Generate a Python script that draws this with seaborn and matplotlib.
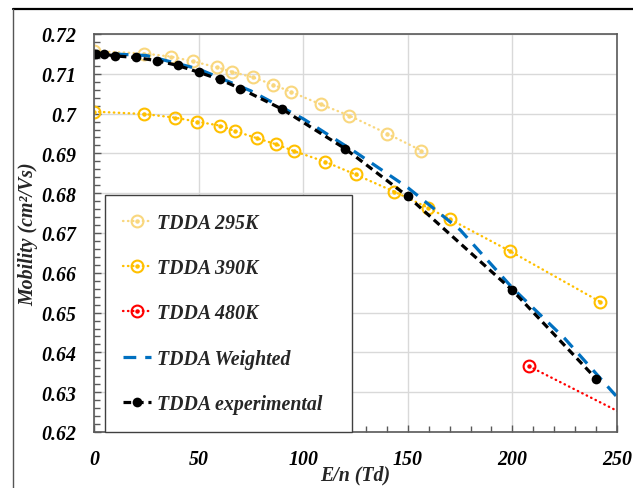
import matplotlib
matplotlib.use("Agg")
import matplotlib.pyplot as plt
import seaborn as sns
from matplotlib.path import Path
from matplotlib.ticker import MultipleLocator, FuncFormatter
from matplotlib.lines import Line2D

# ---- data: reduced field E/n (Td) vs mobility (cm^2/Vs) ----
x_295 = [0, 24, 37, 47.5, 59, 66, 76, 85.5, 94, 108.5, 122, 140, 156.5]
y_295 = [0.7157, 0.7151, 0.7143, 0.7131, 0.7116, 0.7105, 0.7091, 0.7073,
         0.7055, 0.7023, 0.6995, 0.6950, 0.6907]

x_390 = [0, 24, 38.5, 49, 60, 67.5, 78, 87, 95.5, 110.5, 125, 143.5, 159.5,
         170, 199, 242]
y_390 = [0.7005, 0.6999, 0.6990, 0.6980, 0.6970, 0.6956, 0.6938, 0.6923,
         0.6906, 0.6879, 0.6847, 0.6804, 0.6764, 0.6735, 0.6654, 0.6527]

x_480 = [208, 270]
y_480 = [0.6365, 0.6200]

x_wtd = [0, 25, 50, 75, 100, 125, 150, 175, 200, 225, 250]
y_wtd = [0.7152, 0.7146, 0.7112, 0.7057, 0.6987, 0.6903, 0.6814, 0.6708,
         0.6562, 0.6435, 0.6288]

x_exp = [0, 1, 5, 10, 20, 30, 40, 50, 60, 70, 90, 120, 150, 200, 240]
y_exp = [0.7150, 0.7150, 0.7149, 0.7145, 0.7141, 0.7133, 0.7121, 0.7104,
         0.7086, 0.7063, 0.7011, 0.6912, 0.6792, 0.6556, 0.6334]

labels = ["TDDA 295K", "TDDA 390K", "TDDA 480K", "TDDA Weighted",
          "TDDA experimental"]

sns.set_theme(style="white")
plt.rcParams["font.family"] = ["Liberation Serif", "DejaVu Serif"]
plt.rcParams["font.weight"] = "bold"
plt.rcParams["font.style"] = "italic"
plt.rcParams["axes.labelweight"] = "bold"

FS = 14.3

fig = plt.figure(figsize=(6.33, 4.89), dpi=100)
ax = fig.add_axes([94 / 633, 56 / 489, 523 / 633, 398 / 489])

# open ring with a centre dot
target = Path.make_compound_path(Path.unit_circle(), Path.circle((0, 0), 0.2))

dotted = (0, (0.2, 1.9))


def ring_series(x, y, label, color):
    sns.lineplot(x=x, y=y, ax=ax, label=label, color=color, estimator=None,
                 sort=False, marker=target)
    ln = ax.lines[-1]
    ln.set_linewidth(1.7)
    ln.set_linestyle(dotted)
    ln.set_dash_capstyle("round")
    ln.set_markersize(8.5)
    ln.set_markeredgewidth(1.5)
    ln.set_markeredgecolor(color)
    ln.set_markerfacecolor("none")


ring_series(x_295, y_295, labels[0], "#F9D77E")
ring_series(x_390, y_390, labels[1], "#FFC000")
ring_series(x_480, y_480, labels[2], "#FF0000")

sns.lineplot(x=x_wtd, y=y_wtd, ax=ax, label=labels[3], color="#0070C0",
             estimator=None, sort=False)
ln = ax.lines[-1]
ln.set_linewidth(2.3)
ln.set_linestyle((0, (4.0, 2.8)))

sns.lineplot(x=x_exp, y=y_exp, ax=ax, label=labels[4], color="black",
             estimator=None, sort=False, marker="o")
ln = ax.lines[-1]
ln.set_linewidth(2.3)
ln.set_linestyle((0, (2.4, 1.5)))
ln.set_markersize(7)
ln.set_markeredgewidth(0)
ln.set_markerfacecolor("black")

ax.set_xlim(0, 250)
ax.set_ylim(0.62, 0.72)
ax.xaxis.set_major_locator(MultipleLocator(50))
ax.xaxis.set_minor_locator(MultipleLocator(10))
ax.yaxis.set_major_locator(MultipleLocator(0.01))
ax.yaxis.set_minor_locator(MultipleLocator(0.002))
ax.yaxis.set_major_formatter(FuncFormatter(lambda v, _: ("%.2f" % v).rstrip("0")))
ax.xaxis.set_major_formatter(FuncFormatter(lambda v, _: "%d" % round(v)))

ax.grid(True, which="major", color="#D9D9D9", lw=1.0)
ax.set_axisbelow(True)
for sp in ax.spines.values():
    sp.set_visible(True)
    sp.set_color("#595959")
    sp.set_linewidth(1.2)

ax.tick_params(which="both", direction="in", color="#595959", width=1.0,
               labelsize=FS, labelcolor="black", pad=13)
ax.tick_params(which="major", length=5)
ax.tick_params(which="minor", length=4)
ax.tick_params(axis="x", which="both", top=False, bottom=True)
ax.tick_params(axis="y", which="both", right=False, left=True)
ax.tick_params(axis="x", pad=12)

ax.set_xlabel("E/n (Td)", fontsize=FS, fontweight="bold", fontstyle="italic",
              labelpad=-3)
ax.set_ylabel("Mobility (cm²/Vs)", fontsize=FS, fontweight="bold",
              fontstyle="italic", labelpad=2)

handles, labs = ax.get_legend_handles_labels()
leg = ax.legend(handles, labs, loc="upper left", mode="expand",
                bbox_to_anchor=(0.021, 0.0134, 0.472, 0.582),
                prop={"family": "Liberation Serif", "weight": "bold",
                      "style": "italic", "size": FS},
                frameon=True, fancybox=False, shadow=False, framealpha=1,
                edgecolor="#404040", borderpad=0.9, labelspacing=1.27,
                handlelength=1.4, handletextpad=0.3, numpoints=1,
                borderaxespad=0)
leg.get_frame().set_linewidth(1.0)

# outer frame around the plot area
fig.add_artist(Line2D([13 / 633, 1.0], [1 - 9.5 / 489, 1 - 9.5 / 489],
                      transform=fig.transFigure, color="black", lw=1.6))
fig.add_artist(Line2D([13 / 633, 13 / 633], [0.0, 1 - 9.5 / 489],
                      transform=fig.transFigure, color="#555555", lw=1.0))

fig.savefig("out.png", dpi=100)
